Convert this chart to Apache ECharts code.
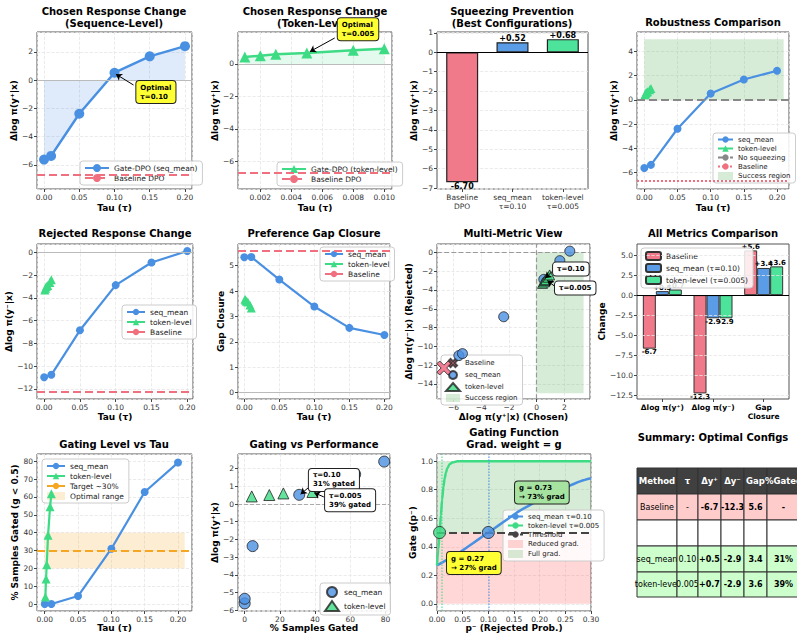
<!DOCTYPE html>
<html>
<head>
<meta charset="utf-8">
<script src="https://cdn.jsdelivr.net/npm/echarts@6/dist/echarts.min.js"></script>
<style>
  html, body { margin: 0; padding: 0; background: #fff; }
  #main { width: 797px; height: 640px; }
</style>
</head>
<body>
<div id="main"></div>
<script>
// ---- values ----
var tauSeq      = [0, 0.01, 0.05, 0.10, 0.15, 0.20];
var chosenSeq   = [-5.62, -5.36, -2.38, 0.52, 1.68, 2.40];
var rejectedSeq = [-10.98, -10.77, -6.85, -2.87, -0.88, 0.13];
var gapSeq      = [5.33, 5.34, 4.45, 3.39, 2.55, 2.27];
var gatedSeq    = [0, 0, 4.5, 31, 62.8, 79.3];

var tauTok      = [0.001, 0.002, 0.003, 0.005, 0.008, 0.010];
var chosenTok   = [0.43, 0.51, 0.60, 0.68, 0.84, 0.94];
var rejectedTok = [-3.30, -3.15, -3.00, -2.90, -2.65, -2.40];
var gapTok      = [3.68, 3.64, 3.60, 3.57, 3.45, 3.33];
var gatedTok    = [4, 14, 22, 38.5, 54.5, 61.8];

var baseChosen = -6.7, baseRejected = -12.3, baseGap = 5.6;
var bestTauSeq = 0.10, bestTauTok = 0.005;
var targetGated = 30, optimalRange = [20, 40];

var bestCats = ['Baseline\nDPO', 'seq_mean\nτ=0.10', 'token-level\nτ=0.005'];
var bestVals = [-6.70, 0.52, 0.68];

var metricCats  = ['Δlog π(y⁺)', 'Δlog π(y⁻)', 'Gap\nClosure'];
var metricBase  = [-6.7, -12.3, 5.6];
var metricSeq   = [0.5, -2.9, 3.4];
var metricTok   = [0.7, -2.9, 3.6];
var metricTicks = [-12.5, -10, -7.5, -5, -2.5, 0, 2.5, 5];

var pSeq = [0, 0.02, 0.04, 0.06, 0.08, 0.10, 0.12, 0.14, 0.16, 0.18, 0.20, 0.22, 0.24, 0.26, 0.28, 0.30];
var gSeq = [0.27, 0.31, 0.35, 0.40, 0.45, 0.50, 0.55, 0.60, 0.65, 0.69, 0.73, 0.77, 0.80, 0.83, 0.86, 0.88];
var pTok = [0, 0.0025, 0.005, 0.0075, 0.01, 0.0125, 0.015, 0.0175, 0.02, 0.025, 0.03, 0.04, 0.06, 0.1, 0.2, 0.3];
var gTok = [0.27, 0.38, 0.50, 0.62, 0.73, 0.82, 0.88, 0.92, 0.95, 0.98, 0.99, 1.0, 1.0, 1.0, 1.0, 1.0];

var tableHead = ['Method', 'τ', 'Δy⁺', 'Δy⁻', 'Gap', '%Gated'];
var tableRows = [
  ['Baseline', '-', '-6.7', '-12.3', '5.6', '-'],
  ['', '', '', '', '', ''],
  ['seq_mean', '0.10', '+0.5', '-2.9', '3.4', '31%'],
  ['token-level', '0.005', '+0.7', '-2.9', '3.6', '39%']
];

// ---- styles ----
var FONT = 'DejaVu Sans';
var BLUE = '#4a90e2', GREEN = '#3ddc84', RED = '#f07080', ORANGE = '#f5a623';
var BAR_RED = '#f07a8a', BAR_BLUE = '#5a9de6', BAR_GREEN = '#4de39b';
var REGION_GREEN = 'rgba(110,185,110,0.28)', REGION_RED = 'rgba(255,110,110,0.28)';
var XPATH = 'path://M2,0 L5,3 L8,0 L10,2 L7,5 L10,8 L8,10 L5,7 L2,10 L0,8 L3,5 L0,2 Z';
var TICK_FS = 7.5, NAME_FS = 9, LEG_FS = 7.5;

function pts(xs, ys) { return xs.map(function (x, i) { return [x, ys[i]]; }); }
function minus(s) { return s.replace('-', '\u2212'); }

var gridBoxes = [
  [37, 32, 155, 157], [238, 32, 154, 157], [437, 32, 151, 157], [637, 32, 152, 157],
  [37, 244, 156, 155], [238, 244, 152, 155], [437, 244, 153, 155], [637, 244, 152, 155],
  [37, 454, 155, 157], [238, 454, 152, 157], [437, 454, 154, 157]
];

function valAxis(gi, min, max, o) {
  o = o || {};
  return {
    type: 'value', gridIndex: gi, min: min, max: max, splitNumber: o.split || 5,
    name: o.name || '', nameLocation: 'middle', nameGap: o.gap || 14,
    nameTextStyle: { fontFamily: FONT, fontSize: NAME_FS, fontWeight: 'bold', color: '#000' },
    axisLine: { show: false, onZero: false },
    axisTick: { show: true, length: 3, lineStyle: { color: '#444' }, customValues: o.ticks },
    axisLabel: {
      fontFamily: FONT, fontSize: TICK_FS, color: '#333', margin: 4,
      showMinLabel: !!o.showEnds, showMaxLabel: !!o.showEnds, customValues: o.ticks,
      formatter: function (v) { return minus(o.dec == null ? String(v) : v.toFixed(o.dec)); }
    },
    splitLine: { show: o.grid !== false, lineStyle: { color: '#e6e6e6', type: 'dashed', width: 0.8 } }
  };
}

function catAxis(gi, data, bold) {
  return {
    type: 'category', gridIndex: gi, data: data,
    axisLine: { show: false, onZero: false },
    axisTick: { show: true, alignWithLabel: true, length: 3, lineStyle: { color: '#444' } },
    axisLabel: { fontFamily: FONT, fontSize: bold ? 7.5 : TICK_FS, interval: 0, margin: 4, lineHeight: 9,
      fontWeight: bold ? 'bold' : 'normal', color: bold ? '#000' : '#333' },
    splitLine: { show: false }
  };
}

function ttl(text, cx, top) {
  return { text: text, left: cx, top: top, textAlign: 'center', padding: 0,
    textStyle: { fontFamily: FONT, fontSize: 10, fontWeight: 'bold', color: '#000', lineHeight: 12 } };
}

function legend(names, left, top, o) {
  return Object.assign({
    data: names, left: left, top: top, orient: 'vertical', selectedMode: false,
    itemWidth: 18, itemHeight: 8, itemGap: 2, padding: [3, 5, 3, 4],
    backgroundColor: 'rgba(255,255,255,0.85)', borderColor: '#ccc', borderWidth: 1, borderRadius: 3,
    textStyle: { fontFamily: FONT, fontSize: LEG_FS, color: '#222' },
    formatter: function (n) { return n.replace(/#\d+$/, ''); }
  }, o || {});
}

function deco(gi, extra) {
  return Object.assign({ type: 'line', xAxisIndex: gi, yAxisIndex: gi, data: [], silent: true, clip: false,
    symbol: 'none' }, extra);
}
function hline(y, color, type, width) { return { yAxis: y, lineStyle: { color: color, type: type, width: width } }; }
function vline(x, color, type, width) { return { xAxis: x, lineStyle: { color: color, type: type, width: width } }; }
function lines(arr) { return { symbol: 'none', silent: true, label: { show: false }, data: arr }; }
function arrows(arr) {
  return { symbol: ['none', 'arrow'], symbolSize: 6, silent: true, label: { show: false }, z: 9,
    lineStyle: { color: '#000', width: 1, type: 'solid' },
    data: arr.map(function (a) { return [{ coord: a[0] }, { coord: a[1] }]; }) };
}
function box(coord, text, bg, fs, dy) {
  return { coord: coord, symbol: 'rect', symbolSize: 1, itemStyle: { color: 'rgba(0,0,0,0)' },
    label: { show: true, position: 'inside', align: 'left', formatter: text, backgroundColor: bg,
      offset: [0, dy || 0], borderColor: '#222', borderWidth: 1, borderRadius: 3, padding: [2, 4],
      fontFamily: FONT, fontSize: fs || 7, fontWeight: 'bold', lineHeight: 9, color: '#000' } };
}
function boxes(arr) { return { z: 10, silent: true, data: arr }; }
function region(x0, y0, x1, y1, color) {
  return { silent: true, label: { show: false }, itemStyle: { color: color },
    data: [[{ coord: [x0, y0] }, { coord: [x1, y1] }]] };
}
function lineSeries(name, gi, data, color, symbol, size, extra) {
  return Object.assign({ name: name, type: 'line', xAxisIndex: gi, yAxisIndex: gi, data: data,
    symbol: symbol, symbolSize: size, color: color, itemStyle: { color: color, borderWidth: 0 },
    lineStyle: { color: color, width: 2.2 }, z: 4 }, extra || {});
}
function scatterSeries(name, gi, data, color, symbol, size) {
  return { name: name, type: 'scatter', xAxisIndex: gi, yAxisIndex: gi, data: data,
    symbol: symbol, symbolSize: size, itemStyle: { color: color, borderColor: '#222', borderWidth: 1 }, z: 5 };
}
function refSeries(name, gi, y, color, type) {
  return deco(gi, { name: name, color: color, lineStyle: { color: color, type: type, width: 2 },
    markLine: lines([hline(y, color, type, 2)]) });
}
function barLabel(dec) {
  return { show: true, distance: 0, fontFamily: FONT, fontSize: dec === 2 ? 8 : 7, fontWeight: 'bold', color: '#000',
    formatter: function (p) { return (p.value > 0 ? '+' : '') + p.value.toFixed(dec); } };
}
function barData(vals, colors) {
  return vals.map(function (v, i) {
    var d = { value: v, label: { position: v < 0 ? 'bottom' : 'top' } };
    if (colors) d.itemStyle = { color: colors[i] };
    return d;
  });
}

var xAxes = [
  valAxis(0, -0.01, 0.21, { name: 'Tau (τ)', dec: 2 }),
  valAxis(1, 0.00056, 0.0105, { name: 'Tau (τ)', dec: 3 }),
  catAxis(2, bestCats, false),
  valAxis(3, -0.011, 0.218, { name: 'Tau (τ)', dec: 2 }),
  valAxis(4, -0.01, 0.208, { name: 'Tau (τ)', dec: 2, gap: 13 }),
  valAxis(5, -0.009, 0.208, { name: 'Tau (τ)', dec: 2, gap: 13 }),
  valAxis(6, -7.2, 3.86, { name: 'Δlog π(y⁺|x) (Chosen)', gap: 13 }),
  catAxis(7, metricCats, true),
  valAxis(8, -0.0116, 0.221, { name: 'Tau (τ)', dec: 2, gap: 12 }),
  valAxis(9, -3.8, 82.6, { name: '% Samples Gated', gap: 12 }),
  valAxis(10, 0, 0.3, { name: 'p⁻ (Rejected Prob.)', dec: 2, gap: 12, showEnds: true })
];
var yAxes = [
  valAxis(0, -7.7, 3.4, { name: 'Δlog π(y⁺|x)', gap: 17 }),
  valAxis(1, -7.7, 1.97, { name: 'Δlog π(y⁺|x)', gap: 18 }),
  valAxis(2, -7.05, 1.05, { name: 'Δlog π(y⁺|x)', gap: 17, split: 8 }),
  valAxis(3, -7.35, 5.6, { name: 'Δlog π(y⁺|x)', gap: 18, split: 6 }),
  valAxis(4, -12.9, 0.75, { name: 'Δlog π(y⁻|x)', gap: 21, split: 7 }),
  valAxis(5, -0.25, 5.85, { name: 'Gap Closure', gap: 12 }),
  valAxis(6, -15.6, 0.89, { name: 'Δlog π(y⁻|x) (Rejected)', gap: 21, split: 8 }),
  valAxis(7, -13.0, 6.4, { name: 'Change', gap: 30, dec: 1, ticks: metricTicks, showEnds: true, grid: false }),
  valAxis(8, -3.9, 84.1, { name: '% Samples Gated (g < 0.5)', gap: 17, split: 9 }),
  valAxis(9, -6.05, 2.83, { name: 'Δlog π(y⁺|x)', gap: 17, split: 9 }),
  valAxis(10, -0.05, 1.05, { name: 'Gate g(p⁻)', gap: 20, dec: 1 })
];

var series = [
  // 1. chosen, sequence level
  deco(0, { markLine: lines([hline(0, '#bbb', 'solid', 1)]) }),
  lineSeries('Gate-DPO (seq_mean)', 0, pts(tauSeq, chosenSeq), BLUE, 'circle', 10,
    { lineStyle: { color: BLUE, width: 2.5 }, areaStyle: { origin: 0, color: 'rgba(74,144,226,0.25)' } }),
  refSeries('Baseline DPO#1', 0, baseChosen, RED, 'dashed'),
  deco(0, { markLine: arrows([[[0.127, -0.35], [0.102, 0.42]]]),
    markPoint: boxes([box([0.131, -0.85], 'Optimal\nτ=0.10', '#ffff33')]) }),

  // 2. chosen, token level
  deco(1, { markLine: lines([hline(0, '#bbb', 'solid', 1)]) }),
  lineSeries('Gate-DPO (token-level)', 1, pts(tauTok, chosenTok), GREEN, 'triangle', 11,
    { lineStyle: { color: GREEN, width: 2.5 }, areaStyle: { origin: 0, color: 'rgba(61,220,132,0.2)' } }),
  refSeries('Baseline DPO#2', 1, baseChosen, RED, 'dashed'),
  deco(1, { markLine: arrows([[[0.0068, 1.6], [0.0052, 0.76]]]),
    markPoint: boxes([box([0.0070, 1.9], 'Optimal\nτ=0.005', '#ffff33', 7, -4)]) }),

  // 3. best configurations
  { name: '_bars3', type: 'bar', xAxisIndex: 2, yAxisIndex: 2, barWidth: 32,
    data: barData(bestVals, [BAR_RED, BAR_BLUE, BAR_GREEN]),
    itemStyle: { borderColor: '#222', borderWidth: 1.2 }, label: barLabel(2),
    markLine: lines([hline(0, '#000', 'solid', 1)]) },

  // 4. robustness
  deco(3, { name: 'Success region#4', markArea: region(0, 0, 0.21, 5, REGION_GREEN) }),
  refSeries('No squeezing', 3, 0, '#888', 'dashed'),
  refSeries('Baseline#4', 3, baseChosen, RED, 'dotted'),
  lineSeries('seq_mean#4', 3, pts(tauSeq, chosenSeq), BLUE, 'circle', 8),
  lineSeries('token-level#4', 3, pts(tauTok, chosenTok), GREEN, 'triangle', 9),

  // 5. rejected
  deco(4, { markLine: lines([hline(0, '#bbb', 'solid', 1)]) }),
  lineSeries('seq_mean#5', 4, pts(tauSeq, rejectedSeq), BLUE, 'circle', 8),
  lineSeries('token-level#5', 4, pts(tauTok, rejectedTok), GREEN, 'triangle', 9),
  refSeries('Baseline#5', 4, baseRejected, RED, 'dashed'),

  // 6. gap closure
  deco(5, { markLine: lines([hline(0, '#bbb', 'solid', 1)]) }),
  lineSeries('seq_mean#6', 5, pts(tauSeq, gapSeq), BLUE, 'circle', 8),
  lineSeries('token-level#6', 5, pts(tauTok, gapTok), GREEN, 'triangle', 9),
  refSeries('Baseline#6', 5, baseGap, RED, 'dashed'),

  // 7. multi-metric scatter
  deco(6, { name: 'Success region#7', markArea: region(0, -15, 3.4, 0, REGION_GREEN) }),
  deco(6, { markLine: lines([hline(0, '#999', 'dashed', 1.2), vline(0, '#999', 'dashed', 1.2)]) }),
  scatterSeries('Baseline#7', 6, [[baseChosen, baseRejected]], '#f0607a', XPATH, 14),
  scatterSeries('seq_mean#7', 6, pts(chosenSeq, rejectedSeq), BLUE, 'circle', 10),
  scatterSeries('token-level#7', 6, pts(chosenTok, rejectedTok), GREEN, 'triangle', 10),
  deco(6, { markLine: arrows([[[1.15, -2.0], [0.62, -2.75]], [[1.3, -3.6], [0.78, -3.0]]]),
    markPoint: boxes([box([1.19, -1.77], 'τ=0.10', '#fff'), box([1.33, -3.79], 'τ=0.005', '#fff')]) }),

  // 8. all metrics grouped bars
  deco(7, { markLine: lines(metricTicks.map(function (t) { return hline(t, '#e6e6e6', 'dashed', 0.8); })) }),
  { name: 'Baseline#8', type: 'bar', xAxisIndex: 7, yAxisIndex: 7, data: barData(metricBase), barWidth: 13, barGap: '0%',
    itemStyle: { color: BAR_RED, borderColor: '#333', borderWidth: 1 }, label: barLabel(1) },
  { name: 'seq_mean (τ=0.10)', type: 'bar', xAxisIndex: 7, yAxisIndex: 7, data: barData(metricSeq), barWidth: 13, barGap: '0%',
    itemStyle: { color: BAR_BLUE, borderColor: '#333', borderWidth: 1 }, label: barLabel(1) },
  { name: 'token-level (τ=0.005)', type: 'bar', xAxisIndex: 7, yAxisIndex: 7, data: barData(metricTok), barWidth: 13, barGap: '0%',
    itemStyle: { color: BAR_GREEN, borderColor: '#333', borderWidth: 1 }, label: barLabel(1),
    markLine: lines([hline(0, '#000', 'solid', 1)]) },

  // 9. gating level
  deco(8, { name: 'Optimal range', markArea: region(0, optimalRange[0], 0.21, optimalRange[1], 'rgba(245,166,35,0.2)') }),
  refSeries('Target ~30%', 8, targetGated, ORANGE, 'dashed'),
  lineSeries('seq_mean#9', 8, pts(tauSeq, gatedSeq), BLUE, 'circle', 8),
  lineSeries('token-level#9', 8, pts(tauTok, gatedTok), GREEN, 'triangle', 9),

  // 10. gating vs performance
  deco(9, { markLine: lines([hline(0, '#aaa', 'dashed', 1)]) }),
  scatterSeries('seq_mean#10', 9, pts(gatedSeq, chosenSeq), BLUE, 'circle', 11),
  scatterSeries('token-level#10', 9, pts(gatedTok, chosenTok), GREEN, 'triangle', 11),
  deco(9, { markLine: arrows([[[36.5, 0.95], [31.8, 0.56]], [[45, 0.4], [39.5, 0.64]]]),
    markPoint: boxes([box([36.5, 1.36], 'τ=0.10\n31% gated', '#fff'), box([45.7, 0.22], 'τ=0.005\n39% gated', '#fff')]) }),

  // 11. gating function
  deco(10, { name: 'Reduced grad.', markArea: region(0, 0, 0.3, 0.5, REGION_RED) }),
  deco(10, { name: 'Full grad.', markArea: region(0, 0.5, 0.3, 1.0, REGION_GREEN) }),
  deco(10, { markLine: lines([vline(bestTauTok, 'rgba(61,220,132,0.7)', 'dotted', 1.5), vline(bestTauSeq, 'rgba(74,144,226,0.7)', 'dotted', 1.5)]) }),
  refSeries('Threshold', 10, 0.5, '#444', 'dashed'),
  lineSeries('seq_mean τ=0.10', 10, pts(pSeq, gSeq), BLUE, 'none', 0, { smooth: 0.3, lineStyle: { color: BLUE, width: 2.5 } }),
  lineSeries('token-level τ=0.005', 10, pts(pTok, gTok), GREEN, 'none', 0, { smooth: 0.3, smoothMonotone: 'x', lineStyle: { color: GREEN, width: 2.5 } }),
  scatterSeries('_g1', 10, [[bestTauTok, 0.5]], GREEN, 'circle', 12),
  scatterSeries('_g2', 10, [[bestTauSeq, 0.5]], BLUE, 'circle', 12),
  deco(10, { markPoint: boxes([box([0.152, 0.78], 'g = 0.73\n→ 73% grad', '#a6e3a0'), box([0.0195, 0.286], 'g = 0.27\n→ 27% grad', '#ffff33')]) })
];

// ---- summary table (panel 12) ----
var colX = [637, 677, 698, 721, 744, 767, 800];
var rowY = [468, 494, 520, 546, 572, 597];
var rowFill = ['#404040', '#ffcccc', '#ffffff', '#ccffcc', '#ccffcc'];
var tableEls = [];
[tableHead].concat(tableRows).forEach(function (row, r) {
  row.forEach(function (txt, c) {
    var x0 = colX[c], x1 = colX[c + 1], y0 = rowY[r], y1 = rowY[r + 1];
    tableEls.push({ type: 'rect', silent: true, shape: { x: x0, y: y0, width: x1 - x0, height: y1 - y0 },
      style: { fill: rowFill[r], stroke: '#333', lineWidth: 1 } });
    var bold = r === 0 || c >= 2;
    tableEls.push({ type: 'text', silent: true,
      style: { text: txt, x: (x0 + x1) / 2, y: (y0 + y1) / 2, align: 'center', verticalAlign: 'middle',
        font: (bold ? 'bold ' : '') + (r === 0 ? '8.5px ' : '8px ') + FONT, fill: r === 0 ? '#fff' : '#000' } });
  });
});

var option = {
  animation: false,
  textStyle: { fontFamily: FONT },
  title: [
    ttl('Chosen Response Change\n(Sequence-Level)', 114, 5),
    ttl('Chosen Response Change\n(Token-Level)', 315, 5),
    ttl('Squeezing Prevention\n(Best Configurations)', 512, 5),
    ttl('Robustness Comparison', 713, 16),
    ttl('Rejected Response Change', 115, 227),
    ttl('Preference Gap Closure', 314, 227),
    ttl('Multi-Metric View', 513, 227),
    ttl('All Metrics Comparison', 713, 227),
    ttl('Gating Level vs Tau', 114, 438),
    ttl('Gating vs Performance', 314, 438),
    ttl('Gating Function\nGrad. weight = g', 514, 426),
    ttl('Summary: Optimal Configs', 713, 431)
  ],
  grid: gridBoxes.map(function (b) {
    return { left: b[0], top: b[1], width: b[2], height: b[3], show: true, borderColor: '#555', borderWidth: 1,
      backgroundColor: 'transparent', containLabel: false, outerBoundsMode: 'none' };
  }),
  xAxis: xAxes,
  yAxis: yAxes,
  legend: [
    legend(['Gate-DPO (seq_mean)', 'Baseline DPO#1'], 80, 161, { itemHeight: 10, itemWidth: 24 }),
    legend(['Gate-DPO (token-level)', 'Baseline DPO#2'], 277, 162, { itemHeight: 10, itemWidth: 24 }),
    legend(['seq_mean#4', 'token-level#4', 'No squeezing', 'Baseline#4',
      { name: 'Success region#4', icon: 'rect', itemStyle: { color: REGION_GREEN } }], 713, 133,
      { itemWidth: 15, textStyle: { fontFamily: FONT, fontSize: 7, color: '#222' } }),
    legend(['seq_mean#5', 'token-level#5', 'Baseline#5'], 122, 305),
    legend(['seq_mean#6', 'token-level#6', 'Baseline#6'], 320, 247),
    legend(['Baseline#7', 'seq_mean#7', 'token-level#7',
      { name: 'Success region#7', icon: 'rect', itemStyle: { color: REGION_GREEN } }], 441, 355,
      { itemWidth: 14, textStyle: { fontFamily: FONT, fontSize: 7, color: '#222' } }),
    legend(['Baseline#8', 'seq_mean (τ=0.10)', 'token-level (τ=0.005)'], 641, 248, { itemWidth: 15 }),
    legend(['seq_mean#9', 'token-level#9', 'Target ~30%',
      { name: 'Optimal range', icon: 'rect', itemStyle: { color: 'rgba(245,166,35,0.2)' } }], 42, 459),
    legend(['seq_mean#10', 'token-level#10'], 320, 583, { itemWidth: 14, itemHeight: 10 }),
    legend(['seq_mean τ=0.10', 'token-level τ=0.005', 'Threshold',
      { name: 'Reduced grad.', icon: 'rect', itemStyle: { color: REGION_RED } },
      { name: 'Full grad.', icon: 'rect', itemStyle: { color: REGION_GREEN } }], 503, 510,
      { itemWidth: 15, textStyle: { fontFamily: FONT, fontSize: 7, color: '#222' } })
  ],
  series: series,
  graphic: [{ type: 'group', silent: true, children: tableEls }]
};

var chart = echarts.init(document.getElementById('main'), null, { renderer: 'svg' });
chart.setOption(option);
</script>
</body>
</html>
